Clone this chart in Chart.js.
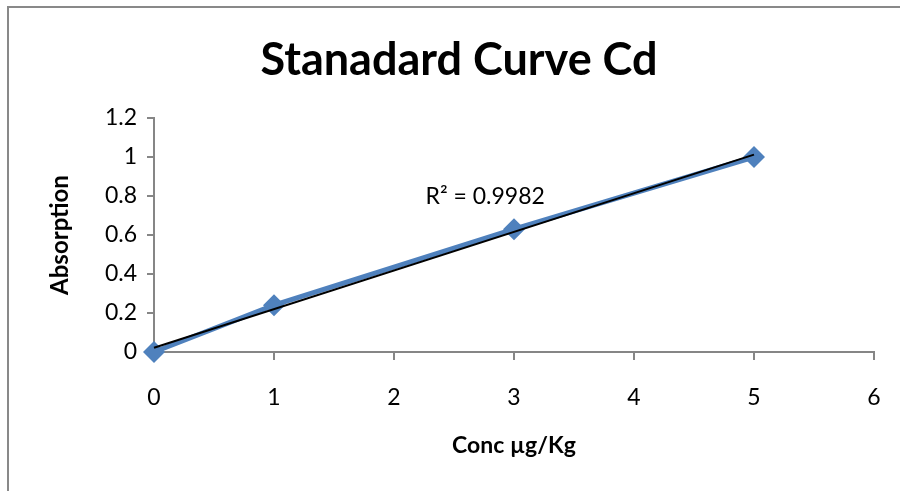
<!DOCTYPE html>
<html>
<head>
<meta charset="utf-8">
<script src="https://cdn.jsdelivr.net/npm/chart.js@4"></script>
<style>
  html, body { margin: 0; padding: 0; background: #fff; overflow: hidden; }
  #wrap { position: relative; width: 900px; height: 491px; }
  #frame { position: absolute; left: 7px; top: 6px; width: 1000px; height: 1000px;
           border: 2px solid #898989; box-sizing: border-box; pointer-events: none; }
  canvas { position: absolute; left: 0; top: 0; }
</style>
</head>
<body>
<div id="wrap">
  <canvas id="canvas" width="900" height="491"></canvas>
  <div id="frame"></div>
</div>
<script>
// data
const conc = [0, 1, 3, 5];
const absorption = [0, 0.24, 0.63, 1.0];
// linear trendline end points (Excel trendline)
const trendX = [0, 5];
const trendY = [0.022, 1.012];
const rSquared = 'R² = 0.9982';
const xTickLabels = ['0', '1', '2', '3', '4', '5', '6'];
const yTickLabels = ['0', '0.2', '0.4', '0.6', '0.8', '1', '1.2'];

const FONT = 'Lato, "Open Sans", sans-serif';
const axisGrey = '#868686';
const blue = '#4F81BD';

const toPoints = (xs, ys) => xs.map((x, i) => ({ x: x, y: ys[i] }));

// title and R² label drawn on the canvas
const textPlugin = {
  id: 'texts',
  afterDraw(chart) {
    const ctx = chart.ctx;
    const xs = chart.scales.x, ys = chart.scales.y;
    ctx.save();
    ctx.fillStyle = '#000';
    ctx.textAlign = 'center';
    ctx.textBaseline = 'middle';
    ctx.font = 'bold 45px ' + FONT;
    ctx.fillText('Stanadard Curve Cd', 459, 60);
    ctx.font = '23px ' + FONT;
    ctx.fillText(rSquared, xs.getPixelForValue(2.76), ys.getPixelForValue(0.795));
    ctx.restore();
  }
};

const data = {
  datasets: [
    {
      label: 'Linear (trend)',
      data: toPoints(trendX, trendY),
      borderColor: '#000',
      borderWidth: 2,
      pointRadius: 0,
      showLine: true,
      clip: false,
    },
    {
      label: 'Absorption',
      data: toPoints(conc, absorption),
      borderColor: blue,
      backgroundColor: blue,
      borderWidth: 5,
      pointStyle: 'rectRot',
      pointRadius: 11,
      pointBorderWidth: 0,
      showLine: true,
      clip: false,
    },
  ],
};

const config = {
  type: 'scatter',
  data: data,
  plugins: [textPlugin],
  options: {
    responsive: false,
    animation: false,
    layout: { padding: { top: 118, left: 0, right: 26, bottom: 0 } },
    plugins: {
      legend: { display: false },
      tooltip: { enabled: false },
      title: { display: false },
    },
    scales: {
      x: {
        type: 'linear',
        min: 0, max: 6,
        afterFit(s) { s.height = 139; s.paddingLeft = 0; s.paddingRight = 0; },
        border: { display: true, color: axisGrey, width: 2 },
        grid: { drawOnChartArea: false, drawTicks: true, tickLength: 8, color: axisGrey, lineWidth: 2 },
        ticks: {
          stepSize: 1, color: '#000', padding: 24,
          font: { family: FONT, size: 23 },
          callback: (v, i) => xTickLabels[i],
        },
        title: {
          display: true, text: 'Conc µg/Kg', color: '#000',
          font: { family: FONT, size: 23, weight: 'bold' },
          padding: { top: 0, bottom: 32 },
        },
      },
      y: {
        type: 'linear',
        min: 0, max: 1.2,
        afterFit(s) { s.width = 154; },
        border: { display: true, color: axisGrey, width: 2 },
        grid: { drawOnChartArea: false, drawTicks: true, tickLength: 7, color: axisGrey, lineWidth: 2 },
        ticks: {
          stepSize: 0.2, color: '#000', padding: 10,
          font: { family: FONT, size: 23 },
          callback: (v, i) => yTickLabels[i],
        },
        title: {
          display: true, text: 'Absorption', color: '#000',
          font: { family: FONT, size: 24, weight: 'bold' },
          padding: { top: 46, bottom: 0 },
        },
      },
    },
  },
};

const chart = new Chart(document.getElementById('canvas'), config);
</script>
</body>
</html>
